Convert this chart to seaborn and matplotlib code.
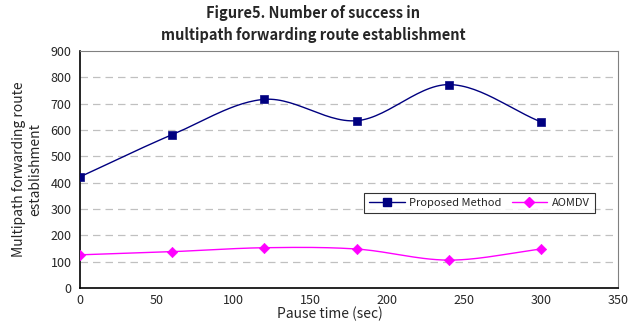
import numpy as np
import pandas as pd
import seaborn as sns
import matplotlib
matplotlib.use("Agg")
import matplotlib.pyplot as plt

# data
pause_time = [0, 60, 120, 180, 240, 300]
proposed = [422, 582, 716, 635, 772, 630]
aomdv = [126, 138, 153, 148, 106, 148]
series_names = ["Proposed Method", "AOMDV"]


def smooth(x, y, n=30):
    # Excel-like smoothed line (Catmull-Rom through the points)
    x = np.asarray(x, float)
    y = np.asarray(y, float)
    px = np.concatenate([[2 * x[0] - x[1]], x, [2 * x[-1] - x[-2]]])
    py = np.concatenate([[2 * y[0] - y[1]], y, [2 * y[-1] - y[-2]]])
    xs, ys = [], []
    t = np.linspace(0, 1, n)
    for i in range(1, len(px) - 2):
        for p, out in ((px, xs), (py, ys)):
            p0, p1, p2, p3 = p[i - 1], p[i], p[i + 1], p[i + 2]
            out.extend(0.5 * ((2 * p1) + (-p0 + p2) * t
                              + (2 * p0 - 5 * p1 + 4 * p2 - p3) * t ** 2
                              + (-p0 + 3 * p1 - 3 * p2 + p3) * t ** 3))
    return np.array(xs), np.array(ys)


sns.set_style("white")
plt.rcParams['font.family'] = ['Noto Sans CJK JP', 'DejaVu Sans']

fig = plt.figure(figsize=(6.3, 3.24), dpi=100)
ax = fig.add_axes([0.127, 0.111, 0.854, 0.732])

colors = ["#000080", "#FF00FF"]
markers = ["s", "D"]
for name, vals, c, m in zip(series_names, [proposed, aomdv], colors, markers):
    sx, sy = smooth(pause_time, vals)
    sns.lineplot(x=sx, y=sy, ax=ax, color=c, lw=1.0, sort=False)
    df = pd.DataFrame({"x": pause_time, "y": vals})
    sns.scatterplot(data=df, x="x", y="y", ax=ax, color=c, marker=m,
                    s=34 if m == "s" else 28, edgecolor=c, zorder=3)
    ax.plot([], [], color=c, lw=1.0, marker=m, ms=5.5, label=name)

ax.set_xlim(0, 350)
ax.set_ylim(0, 900)
ax.set_xticks(range(0, 351, 50))
ax.set_yticks(range(0, 901, 100))
ax.tick_params(axis="both", labelsize=9, length=3, direction="in", pad=4)
ax.tick_params(axis="y", length=0, pad=6)
for y in range(100, 900, 100):
    ax.axhline(y, color="#c0c0c0", lw=0.9, ls=(0, (6, 4)), zorder=0)

for s in ["left", "bottom"]:
    ax.spines[s].set_color("black")
    ax.spines[s].set_linewidth(1.2)
for s in ["top", "right"]:
    ax.spines[s].set_color("#808080")
    ax.spines[s].set_linewidth(0.8)

ax.set_xlabel("Pause time (sec)", fontsize=10)
ax.xaxis.set_label_coords(0.4645, -0.08)
ax.set_ylabel("Multipath forwarding route\nestablishment", fontsize=10, labelpad=6)
fig.suptitle("Figure5. Number of success in\nmultipath forwarding route establishment",
             x=0.497, y=0.985, fontsize=10.5, fontweight="bold", linespacing=1.45)

leg = ax.legend(loc="upper left", bbox_to_anchor=(0.518, 0.425), ncol=2, fontsize=8,
                frameon=True, fancybox=False, edgecolor="black", handlelength=3.2,
                borderpad=0.45, columnspacing=0.9, handletextpad=0.4)
leg.get_frame().set_linewidth(0.8)

plt.savefig("out.png", dpi=100)
plt.close()
